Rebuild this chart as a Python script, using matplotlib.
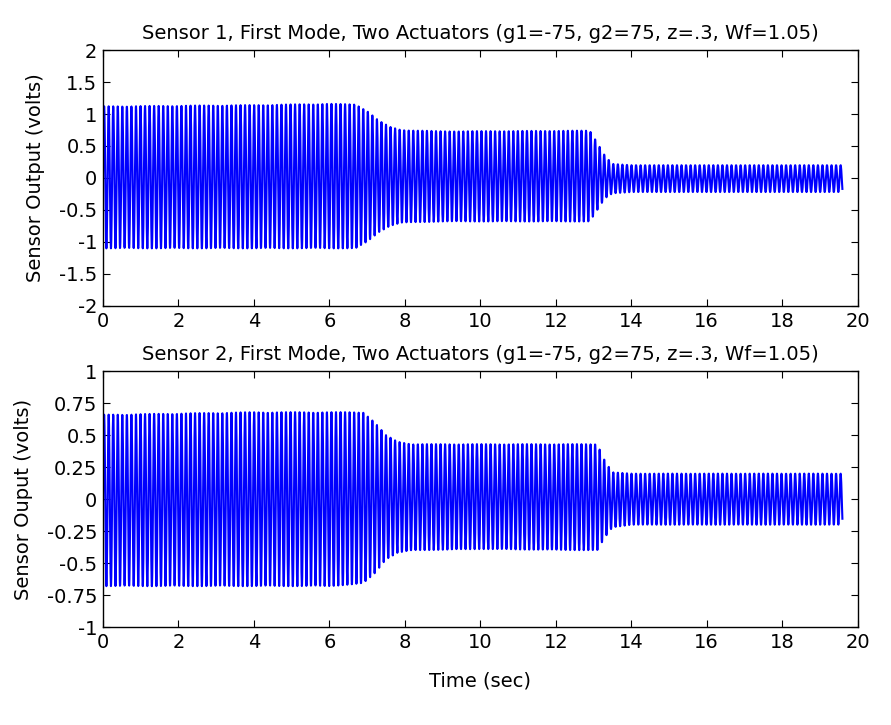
import numpy as np
import matplotlib
matplotlib.use("Agg")
import matplotlib.pyplot as plt

plt.rcParams['font.family'] = ['DejaVu Sans']
plt.rcParams['axes.unicode_minus'] = False

# envelope keypoints (time in sec, upper / lower peak in volts)
s1_t = [0.0, 2.0, 4.0, 6.0, 6.7, 7.0, 7.3, 7.6, 7.9, 9.0, 12.9, 13.1, 13.3, 13.5, 14.0, 19.6]
s1_up = [1.12, 1.13, 1.14, 1.16, 1.15, 1.05, 0.90, 0.80, 0.75, 0.73, 0.74, 0.55, 0.35, 0.22, 0.20, 0.20]
s1_lo = [-1.10, -1.10, -1.10, -1.10, -1.10, -1.00, -0.85, -0.75, -0.70, -0.68, -0.68, -0.50, -0.32, -0.24, -0.22, -0.22]

s2_t = [0.0, 2.0, 4.0, 6.0, 6.9, 7.2, 7.5, 7.8, 8.2, 10.0, 13.1, 13.3, 13.5, 14.0, 19.6]
s2_up = [0.66, 0.67, 0.68, 0.68, 0.68, 0.60, 0.50, 0.45, 0.43, 0.43, 0.43, 0.30, 0.21, 0.20, 0.20]
s2_lo = [-0.68, -0.68, -0.68, -0.68, -0.66, -0.58, -0.47, -0.42, -0.40, -0.39, -0.40, -0.30, -0.22, -0.20, -0.20]

carrier_hz = 8.3     # visible oscillation rate
dt = 0.005           # sample step of the recorded signal
t_end = 19.6

title1 = "Sensor 1, First Mode, Two Actuators (g1=-75, g2=75, z=.3, Wf=1.05)"
title2 = "Sensor 2, First Mode, Two Actuators (g1=-75, g2=75, z=.3, Wf=1.05)"
ylab1 = "Sensor Output (volts)"
ylab2 = "Sensor Ouput (volts)"
xlab = "Time (sec)"

ticks1 = [-2, -1.5, -1, -0.5, 0, 0.5, 1, 1.5, 2]
ticks2 = [-1, -0.75, -0.5, -0.25, 0, 0.25, 0.5, 0.75, 1]


def build(tk, up, lo):
    t = np.arange(0, t_end, dt)
    u = np.interp(t, tk, up)
    l = np.interp(t, tk, lo)
    s = np.sin(2 * np.pi * carrier_hz * t)
    y = (u + l) / 2 + (u - l) / 2 * s
    return t, y


fig = plt.figure(figsize=(8.91, 7.25), dpi=100)
ax1 = fig.add_axes([0.1156, 0.578, 0.847, 0.353])
ax2 = fig.add_axes([0.1156, 0.135, 0.847, 0.353])

for ax, tk, up, lo, ttl, yl, yt in [
    (ax1, s1_t, s1_up, s1_lo, title1, ylab1, ticks1),
    (ax2, s2_t, s2_up, s2_lo, title2, ylab2, ticks2),
]:
    t, y = build(tk, up, lo)
    ax.plot(t, y, color=(0, 0, 1), lw=1.5)
    ax.set_xlim(0, 20)
    ax.set_ylim(yt[0], yt[-1])
    ax.set_xticks(range(0, 21, 2))
    ax.set_yticks(yt)
    ax.set_yticklabels([("%g" % v) for v in yt])
    ax.set_title(ttl, fontsize=14, pad=8)
    ax.set_ylabel(yl, fontsize=14, labelpad=10)
    ax.tick_params(direction='in', top=True, right=True, labelsize=14, length=5, pad=4)
    for sp in ax.spines.values():
        sp.set_linewidth(1.0)

ax2.set_xlabel(xlab, fontsize=14, labelpad=14)

fig.savefig("out.png", dpi=100)
